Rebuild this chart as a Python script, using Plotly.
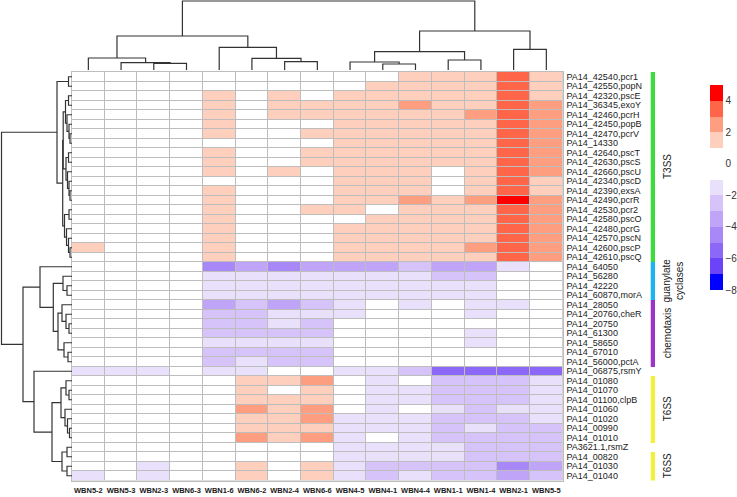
import plotly.graph_objects as go

# ---------------- data ----------------
col_labels = ["WBN5-2", "WBN5-3", "WBN2-3", "WBN6-3", "WBN1-6", "WBN6-2", "WBN2-4", "WBN6-6",
              "WBN4-5", "WBN4-1", "WBN4-4", "WBN1-1", "WBN1-4", "WBN2-1", "WBN5-5"]

row_labels = ["PA14_42540,pcr1", "PA14_42550,popN", "PA14_42320,pscE", "PA14_36345,exoY",
              "PA14_42460,pcrH", "PA14_42450,popB", "PA14_42470,pcrV", "PA14_14330",
              "PA14_42640,pscT", "PA14_42630,pscS", "PA14_42660,pscU", "PA14_42340,pscD",
              "PA14_42390,exsA", "PA14_42490,pcrR", "PA14_42530,pcr2", "PA14_42580,pscO",
              "PA14_42480,pcrG", "PA14_42570,pscN", "PA14_42600,pscP", "PA14_42610,pscQ",
              "PA14_64050", "PA14_56280", "PA14_42220", "PA14_60870,morA",
              "PA14_28050", "PA14_20760,cheR", "PA14_20750", "PA14_61300", "PA14_58650",
              "PA14_67010", "PA14_56000,pctA", "PA14_06875,rsmY",
              "PA14_01080", "PA14_01070", "PA14_01100,clpB", "PA14_01060", "PA14_01020",
              "PA14_00990", "PA14_01010", "PA3621.1,rsmZ", "PA14_00820", "PA14_01030",
              "PA14_01040"]

t3ss_vals = [
    [0, 0, 0, 0, 0, 0, 0, 0, 0, 0, 1.5, 1.5, 1.5, 3.5, 1.5],
    [0, 0, 0, 0, 0, 0, 0, 0, 0, 1.5, 1.5, 1.5, 1.5, 3.5, 1.5],
    [0, 0, 0, 0, 1.5, 0, 1.5, 0, 1.5, 1.5, 1.5, 1.5, 1.5, 3.5, 1.5],
    [0, 0, 0, 0, 1.5, 0, 1.5, 1.5, 1.5, 1.5, 2.5, 1.5, 1.5, 3.5, 2.5],
    [0, 0, 0, 0, 1.5, 0, 1.5, 1.5, 1.5, 1.5, 1.5, 1.5, 2.5, 3.5, 2.5],
    [0, 0, 0, 0, 1.5, 0, 0, 0, 1.5, 1.5, 1.5, 1.5, 1.5, 3.5, 2.5],
    [0, 0, 0, 0, 1.5, 0, 0, 1.5, 1.5, 1.5, 1.5, 1.5, 1.5, 3.5, 2.5],
    [0, 0, 0, 0, 0, 0, 0, 0, 1.5, 1.5, 1.5, 1.5, 1.5, 3.5, 2.5],
    [0, 0, 0, 0, 1.5, 0, 0, 1.5, 1.5, 1.5, 1.5, 1.5, 1.5, 3.5, 2.5],
    [0, 0, 0, 0, 1.5, 0, 0, 1.5, 1.5, 1.5, 1.5, 1.5, 1.5, 3.5, 2.5],
    [0, 0, 0, 0, 1.5, 0, 1.5, 0, 1.5, 1.5, 1.5, 0, 1.5, 3.5, 2.5],
    [0, 0, 0, 0, 0, 0, 0, 0, 1.5, 1.5, 1.5, 0, 1.5, 3.5, 1.5],
    [0, 0, 0, 0, 1.5, 0, 0, 0, 1.5, 1.5, 1.5, 0, 1.5, 3.5, 1.5],
    [0, 0, 0, 0, 1.5, 0, 0, 0, 1.5, 1.5, 2.5, 1.5, 2.5, 4.5, 2.5],
    [0, 0, 0, 0, 1.5, 0, 0, 1.5, 1.5, 0, 1.5, 1.5, 1.5, 3.5, 2.5],
    [0, 0, 0, 0, 1.5, 0, 0, 0, 0, 1.5, 1.5, 1.5, 1.5, 3.5, 2.5],
    [0, 0, 0, 0, 1.5, 0, 0, 0, 1.5, 1.5, 1.5, 1.5, 1.5, 3.5, 2.5],
    [0, 0, 0, 0, 1.5, 0, 0, 0, 1.5, 1.5, 1.5, 1.5, 1.5, 3.5, 2.5],
    [1.5, 0, 0, 0, 1.5, 0, 0, 0, 1.5, 1.5, 1.5, 1.5, 2.5, 3.5, 2.5],
    [0, 0, 0, 0, 1.5, 0, 0, 0, 1.5, 1.5, 1.5, 1.5, 1.5, 3.5, 2.5],
]

gc_vals = [
    [0, 0, 0, 0, -4.5, -3.5, -4.5, -3.5, -3.5, -3.5, -2.5, -3.5, -3.5, -1.5, 0],
    [0, 0, 0, 0, -1.5, -1.5, -1.5, -1.5, -1.5, -1.5, -1.5, -2.5, -2.5, 0, 0],
    [0, 0, 0, 0, -1.5, -1.5, -1.5, -1.5, -1.5, -1.5, -1.5, -1.5, -1.5, 0, 0],
    [0, 0, 0, 0, -1.5, -1.5, -1.5, -1.5, -1.5, -1.5, -1.5, -1.5, -1.5, 0, 0],
]

chemo_vals = [
    [0, 0, 0, 0, -3.5, -2.5, -3.5, -2.5, -1.5, 0, -1.5, 0, -1.5, -1.5, 0],
    [0, 0, 0, 0, -2.5, -2.5, -1.5, -1.5, -1.5, 0, 0, 0, -1.5, 0, 0],
    [0, 0, 0, 0, -2.5, -2.5, -1.5, -2.5, 0, 0, 0, 0, 0, 0, 0],
    [0, 0, 0, 0, -2.5, -2.5, -2.5, -2.5, 0, 0, 0, 0, -1.5, 0, 0],
    [0, 0, 0, 0, -1.5, -1.5, -1.5, -1.5, 0, 0, 0, 0, -1.5, 0, 0],
    [0, 0, 0, 0, -2.5, -2.5, -2.5, -2.5, 0, 0, 0, 0, 0, 0, 0],
    [0, 0, 0, 0, -2.5, -1.5, -2.5, -2.5, 0, 0, 0, 0, 0, 0, 0],
]

rsm_t6ss_vals = [
    [-1.5, -1.5, -1.5, 0, -1.5, -1.5, 0, 0, -1.5, -1.5, -2.5, -5.5, -5.5, -5.5, -5.5],
    [0, 0, 0, 0, 0, 1.5, 1.5, 2.5, 0, -1.5, 0, -2.5, -2.5, -2.5, -1.5],
    [0, 0, 0, 0, 0, 1.5, 0, 1.5, 0, -1.5, -1.5, -2.5, -2.5, -2.5, -1.5],
    [0, 0, 0, 0, 0, 1.5, 1.5, 1.5, 0, -1.5, -1.5, -2.5, -2.5, -2.5, -1.5],
    [0, 0, 0, 0, 0, 2.5, 1.5, 2.5, 0, -1.5, 0, -1.5, -2.5, -1.5, -1.5],
    [0, 0, 0, 0, 0, 1.5, 1.5, 2.5, -1.5, -1.5, -1.5, -2.5, -2.5, -2.5, -1.5],
    [0, 0, 0, 0, 0, 1.5, 1.5, 1.5, -1.5, -1.5, -1.5, -2.5, -1.5, -2.5, -2.5],
    [0, 0, 0, 0, 0, 2.5, 1.5, 2.5, -1.5, 0, -1.5, -2.5, -2.5, -2.5, -2.5],
    [0, 0, 0, 0, 0, 0, 0, 0, -1.5, -1.5, -1.5, -1.5, -2.5, -2.5, -2.5],
    [0, 0, 0, 0, 0, 0, 0, 0, -1.5, -1.5, -1.5, -1.5, -2.5, -2.5, -2.5],
    [0, 0, -1.5, 0, 0, 1.5, 0, 1.5, -1.5, -2.5, -2.5, -2.5, -2.5, -4.5, -3.5],
    [-1.5, 0, -1.5, 0, 0, 1.5, 0, 1.5, -1.5, -2.5, -1.5, -2.5, -2.5, -3.5, -2.5],
]

legend_ticks = [4, 2, 0, -2, -4, -6, -8]
bin_edges = list(range(-8, 6))
bin_colors = ["#0000FF", "#6B44F9", "#8C68F8", "#A887F7", "#BFA4F8", "#D5C3FA", "#E9E0FC",
              "#FFFFFF", "#FFFFFF", "#FECFBD", "#FD9E80", "#FE6549", "#FF0000"]

# row annotation groups
group_names = ["T3SS", "guanylate<br>cyclases", "chemotaxis", "T6SS", "T6SS"]
group_first = [0, 20, 24, 32, 40]
group_last = [19, 23, 30, 38, 42]
group_colors = ["#3ddc3d", "#1ab4f0", "#9b35c9", "#f2f03a", "#f2f03a"]

# dendrograms: [left, right, merge height]; leaves are column / row indices
col_tree = [[[0, [1, [2, 3, 6.7], 7.3], 12.0], [4, [5, [6, 7, 8.3], 11.7], 22.7], 34.0],
            [[[8, [9, 10, 6.0], 8.0], [11, 12, 10.0], 18.3], [13, 14, 20.6], 39.0], 69.0]

t3_a = [[2, 3, 3.5], [4, [5, [6, 7, 2.0], 3.0], 5.0], 6.5]
t3_b = [[8, 9, 3.5], [10, [11, [12, 13, 2.0], 3.0], 4.5], 6.0]
t3_c = [[14, 15, 3.0], [16, [17, [18, 19, 2.0], 3.5], 5.5], 7.5]
t3_tree = [[0, 1, 3.5], [[t3_a, t3_b, 8.8], t3_c, 9.3], 15.0]
chemo_tree = [[24, [25, [26, 27, 3.0], 6.0], 10.0], [28, [29, 30, 4.0], 8.0], 14.0]
gc_tree = [20, [[21, [22, 23, 5.0], 9.0], chemo_tree, 18.7], 32.0]
t6_tree = [[[32, [33, 34, 3.0], 6.0], [35, [36, [37, 38, 2.5], 4.5], 7.0], 11.0],
           [[39, 40, 5.0], [41, 42, 5.0], 10.0], 20.0]
rsm_tree = [31, t6_tree, 38.0]
row_tree = [t3_tree, [gc_tree, rsm_tree, 49.0], 70.5]

# ---------------- build ----------------
W, H = 737, 497
FONT = "Liberation Sans, Arial, Helvetica, sans-serif"
GRID = "#bdbdbd"
LINE = "#333333"


def fx(p):
    return p / W


def fy(p):
    return 1 - p / H


z = t3ss_vals + gc_vals + chemo_vals + rsm_t6ss_vals
n_rows, n_cols = len(row_labels), len(col_labels)
zmin, zmax = bin_edges[0], bin_edges[-1]

colorscale = []
for i, c in enumerate(bin_colors):
    lo = (bin_edges[i] - zmin) / (zmax - zmin)
    hi = (bin_edges[i + 1] - zmin) / (zmax - zmin)
    colorscale += [[lo, c], [hi, c]]


def dendro(node, segs):
    if isinstance(node, int):
        return float(node), 0.0
    left, right, h = node
    pl, hl = dendro(left, segs)
    pr, hr = dendro(right, segs)
    segs.append([(pl, hl), (pl, h), (pr, h), (pr, hr)])
    return (pl + pr) / 2, h


col_segs, row_segs = [], []
dendro(col_tree, col_segs)
dendro(row_tree, row_segs)

cdx, cdy = [], []
for s in col_segs:
    for p, h in s:
        cdx.append(p)
        cdy.append(h)
    cdx.append(None)
    cdy.append(None)

rdx, rdy = [], []
for s in row_segs:
    for p, h in s:
        rdx.append(h)
        rdy.append(p)
    rdx.append(None)
    rdy.append(None)

# annotation bar values
ann_z = [[None] for _ in range(n_rows)]
for gi, (a, b) in enumerate(zip(group_first, group_last)):
    for r in range(a, b + 1):
        ann_z[r][0] = gi
ng = len(group_colors)
ann_scale = []
for gi, c in enumerate(group_colors):
    ann_scale += [[gi / ng, c], [(gi + 1) / ng, c]]

fig = go.Figure()
fig.add_trace(go.Heatmap(
    z=z, x=list(range(n_cols)), y=list(range(n_rows)),
    colorscale=colorscale, zmin=zmin, zmax=zmax, xgap=1, ygap=1,
    hoverinfo="skip",
    colorbar=dict(x=fx(709.5), xanchor="left", y=fy(85), yanchor="top",
                  len=205, lenmode="pixels", thickness=13, outlinewidth=0,
                  xpad=0, ypad=0, tickvals=legend_ticks, ticks="",
                  tickfont=dict(size=10, color="#333333", family=FONT)),
))
fig.add_trace(go.Heatmap(
    z=ann_z, x=[0], y=list(range(n_rows)), xaxis="x4", yaxis="y",
    colorscale=ann_scale, zmin=-0.5, zmax=ng - 0.5, showscale=False, hoverinfo="skip",
))
fig.add_trace(go.Scatter(x=cdx, y=cdy, xaxis="x3", yaxis="y3", mode="lines",
                         line=dict(color=LINE, width=1.2), hoverinfo="skip", showlegend=False))
fig.add_trace(go.Scatter(x=rdx, y=rdy, xaxis="x2", yaxis="y2", mode="lines",
                         line=dict(color=LINE, width=1.2), hoverinfo="skip", showlegend=False))

hm_x = [fx(72), fx(562.7)]
hm_y = [fy(480.5), fy(72)]

fig.update_layout(
    width=W, height=H, margin=dict(l=0, r=0, t=0, b=0, autoexpand=False),
    paper_bgcolor="white", plot_bgcolor="white", showlegend=False,
    font=dict(family=FONT, color="#1a1a1a"),
    xaxis=dict(domain=hm_x, range=[-0.5, n_cols - 0.5], tickvals=list(range(n_cols)),
               ticktext=["<b>%s</b>" % c for c in col_labels], ticks="",
               tickfont=dict(size=7.5, color="#1a1a1a"), showgrid=False, zeroline=False,
               showline=True, mirror=True, linecolor=GRID, linewidth=1, anchor="y",
               automargin=False, ticklabelstandoff=2),
    yaxis=dict(domain=hm_y, range=[n_rows - 0.5, -0.5], tickvals=list(range(n_rows)),
               ticktext=row_labels, side="right", ticks="", anchor="x",
               tickfont=dict(size=9, color="#1a1a1a"), showgrid=False, zeroline=False,
               showline=True, mirror=True, linecolor=GRID, linewidth=1,
               automargin=False, ticklabelstandoff=1),
    xaxis2=dict(domain=[0, fx(72)], range=[72, 0], anchor="y2", visible=False, automargin=False),
    yaxis2=dict(domain=hm_y, range=[n_rows - 0.5, -0.5], anchor="x2", visible=False, automargin=False),
    xaxis3=dict(domain=hm_x, range=[-0.5, n_cols - 0.5], anchor="y3", visible=False, automargin=False),
    yaxis3=dict(domain=[fy(70), 1], range=[0, 70], anchor="x3", visible=False, automargin=False),
    xaxis4=dict(domain=[fx(650.5), fx(655)], range=[-0.5, 0.5], anchor="y", visible=False,
                automargin=False),
)

fig.add_shape(type="rect", xref="x domain", yref="y domain", x0=0, x1=1, y0=0, y1=1,
              fillcolor=GRID, line=dict(width=0), layer="below")

for name, a, b in zip(group_names, group_first, group_last):
    two = "<br>" in name
    fig.add_annotation(x=fx(672.5 if two else 667), xref="paper", xanchor="center",
                       y=(a + b) / 2, yref="y", yanchor="middle",
                       text=name, textangle=-90, showarrow=False,
                       font=dict(size=10, color="#1a1a1a", family=FONT))

fig.write_html(
    "out.html",
    config={"displayModeBar": False},
    post_script="document.body.style.margin='0px';document.body.style.padding='0px';"
                "document.body.style.overflow='hidden';",
)
